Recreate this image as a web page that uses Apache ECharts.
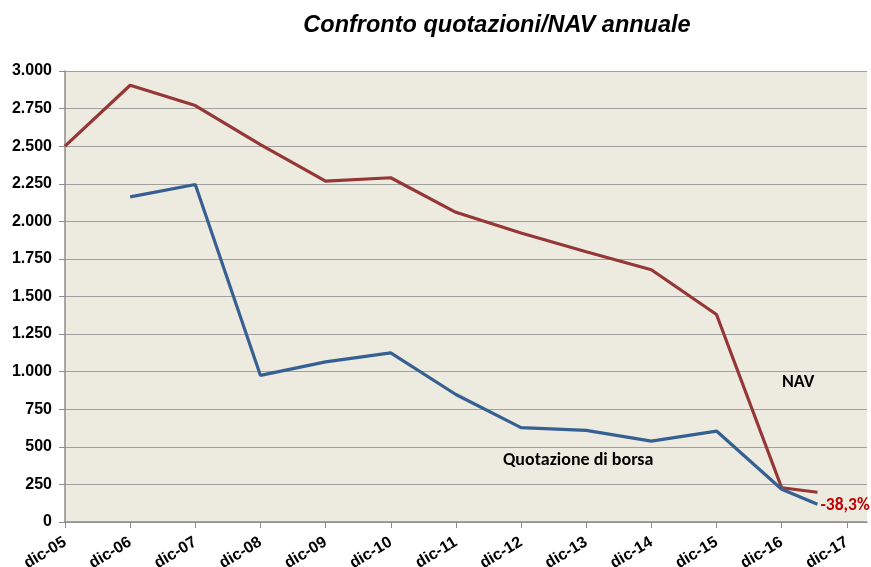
<!DOCTYPE html>
<html><head><meta charset="utf-8">
<script src="https://cdn.jsdelivr.net/npm/echarts@6/dist/echarts.min.js"></script>
<style>html,body{margin:0;padding:0;background:#fff}#c{width:871px;height:567px}</style>
</head><body><div id="c"></div>
<script>
var tickLabels = ['dic-05','dic-06','dic-07','dic-08','dic-09','dic-10','dic-11','dic-12','dic-13','dic-14','dic-15','dic-16','dic-17'];
var tickPositions = [0,1,2,3,4,5,6,7,8,9,10,11,12];
var navX = [0,1,2,3,4,5,6,7,8,9,10,11,11.55];
var navValues = [2500,2905,2770,2510,2268,2290,2060,1922,1798,1678,1380,228,198];
var borsaX = [1,2,3,4,5,6,7,8,9,10,11,11.55];
var borsaValues = [2163,2245,975,1065,1125,848,628,610,538,605,218,118];
var endNote = '-38,3%';

function zip(xs, ys){ return xs.map(function(x,i){ return [x, ys[i]]; }); }
function fmtY(v){ return v.toString().replace(/\B(?=(\d{3})+(?!\d))/g,'.'); }

var chart = echarts.init(document.getElementById('c'));
chart.setOption({
  animation:false,
  title:{text:'Confronto quotazioni/NAV annuale', left:492, top:9, textAlign:'center',
    textStyle:{fontFamily:'"Liberation Sans Narrow","Liberation Sans",Arial', fontSize:23.5, fontWeight:'bold', fontStyle:'italic', color:'#000'}},
  grid:{left:65, right:4, top:71, bottom:45, show:true, backgroundColor:'#EDEAE0', borderWidth:0, outerBoundsMode:'none', containLabel:false},
  xAxis:{type:'value', min:0, max:12.31,
    axisLine:{show:true, lineStyle:{color:'#8c8c8c', width:1.5}},
    axisTick:{show:true, length:6, lineStyle:{color:'#8c8c8c'}, customValues:tickPositions},
    axisLabel:{customValues:tickPositions, rotate:31, margin:19, fontFamily:'"Liberation Sans",Arial', fontWeight:'bold', fontSize:16, color:'#000',
      formatter:function(v){ return tickLabels[Math.round(v)]; }},
    splitLine:{show:false}},
  yAxis:{type:'value', min:0, max:3000, interval:250,
    axisLine:{show:true, lineStyle:{color:'#8c8c8c', width:1.5}},
    axisTick:{show:true, length:6, lineStyle:{color:'#8c8c8c'}},
    axisLabel:{margin:13, fontFamily:'"Liberation Sans",Arial', fontWeight:'bold', fontSize:16, color:'#000', formatter:fmtY},
    splitLine:{show:true, lineStyle:{color:'#a0a0a0', width:1.2}}},
  series:[
    {name:'NAV', type:'line', data:zip(navX,navValues), symbol:'none', lineStyle:{color:'#953735', width:3.2}},
    {name:'Quotazione di borsa', type:'line', data:zip(borsaX,borsaValues), symbol:'none', lineStyle:{color:'#376092', width:3.2},
      endLabel:{show:true, formatter:endNote, color:'#C00000', fontFamily:'Carlito,Calibri,"Liberation Sans",Arial', fontWeight:'bold', fontSize:17.5, distance:3, offset:[0,1]}}
  ],
  graphic:[
    {type:'text', left:782, top:373, style:{text:'NAV', fontFamily:'Carlito,Calibri,"Open Sans",Arial', fontWeight:'bold', fontSize:18, fill:'#000'}},
    {type:'text', left:503, top:451, style:{text:'Quotazione di borsa', fontFamily:'Carlito,Calibri,"Open Sans",Arial', fontWeight:'bold', fontSize:18, fill:'#000'}}
  ]
});
</script></body></html>
